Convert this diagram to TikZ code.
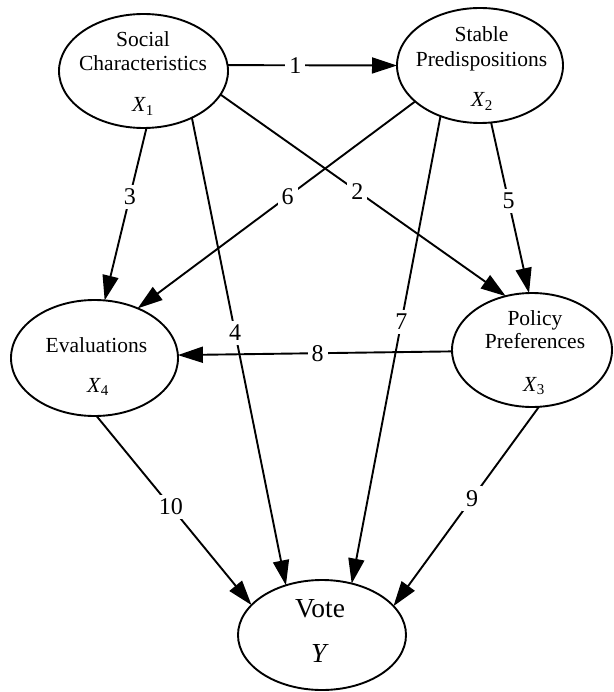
\documentclass[tikz,border=0pt]{standalone}
\usepackage{fontspec}
\setmainfont{Liberation Serif}
\usetikzlibrary{arrows.meta,shapes.geometric}
\begin{document}
\begin{tikzpicture}[x=1pt,y=-1pt,
  ell/.style={ellipse, draw, line width=1.9pt, inner sep=0pt, outer sep=0pt},
  lbl/.style={font=\fontsize{21.5}{21.5}\selectfont, inner sep=0pt, anchor=base},
  big/.style={font=\fontsize{27.5}{27.5}\selectfont, inner sep=0pt, anchor=base},
  num/.style={fill=white, inner sep=4pt, font=\fontsize{24}{24}\selectfont},
  arr/.style={line width=1.9pt, -{Triangle[length=25pt,width=16pt]}}]
\useasboundingbox (0,0) rectangle (613,692);

% ellipses
\node[ell, minimum width=169pt, minimum height=114pt] (S) at (143.5,71) {};
\node[ell, minimum width=166pt, minimum height=115pt] (P) at (480,65.5) {};
\node[ell, minimum width=167pt, minimum height=116pt] (E) at (94.5,358) {};
\node[ell, minimum width=160pt, minimum height=114pt] (Q) at (532,350) {};
\node[ell, minimum width=168pt, minimum height=110pt] (V) at (322,635) {};

% texts
\node[lbl] (S1) at (143,47) {Social};
\node[lbl] (S2) at (143,71) {Characteristics};
\node[lbl] (S3) at (143,112) {\textit{X}\textsubscript{1}};
\node[lbl] (P1) at (481.5,42) {Stable};
\node[lbl] (P2) at (481.5,67) {Predispositions};
\node[lbl] (P3) at (482,107) {\textit{X}\textsubscript{2}};
\node[lbl] (E1) at (96.5,352) {Evaluations};
\node[lbl] (E3) at (98,392) {\textit{X}\textsubscript{4}};
\node[lbl] (Q1) at (535,325) {Policy};
\node[lbl] (Q2) at (535,348) {Preferences};
\node[lbl] (Q3) at (534,391) {\textit{X}\textsubscript{3}};
\node[big] (V1) at (320,617) {Vote};
\node[big] (V3) at (320,662) {\textit{Y}};

% connectors
\draw[arr] (S.4) -- node[num, pos=0.40] (n1) {1} (P.180);
\draw[arr] (S.-17) -- node[num, pos=0.48] (n2) {2} (Q.116);
\draw[arr] (S.-87.5) -- node[num, pos=0.40] (n3) {3} (E.80.7);
\draw[arr] (S.-44) -- node[num, pos=0.46] (n4) {4} (V.126);
\draw[arr] (P.-79) -- node[num, pos=0.46] (n5) {5} (Q.93);
\draw[arr] (P.209) -- node[num, pos=0.46] (n6) {6} (E.49);
\draw[arr] (P.232) -- node[num, pos=0.44] (n7) {7} (V.60);
\draw[arr] (Q.181) -- node[num, pos=0.49] (n8) {8} (E.2);
\draw[arr] (Q.-83) -- node[num, pos=0.46] (n9) {9} (V.22);
\draw[arr] (E.-88) -- node[num, pos=0.48] (n10) {10} (V.157);
\end{tikzpicture}
\end{document}
